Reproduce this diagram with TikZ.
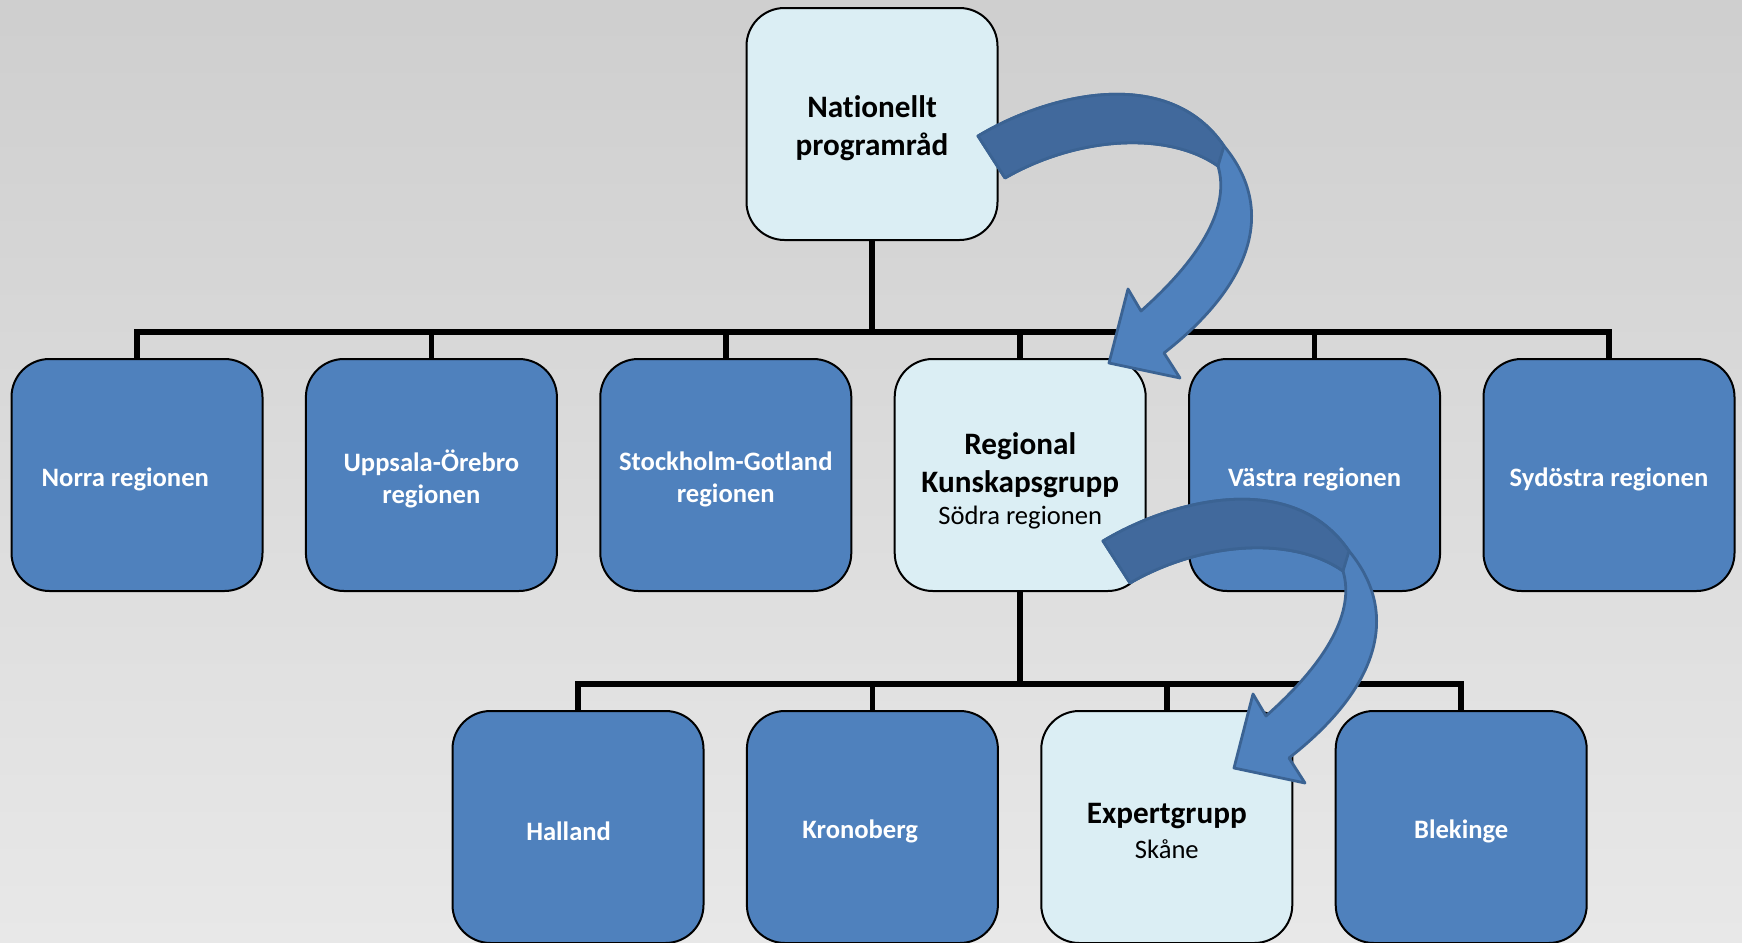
\documentclass[tikz,border=0pt]{standalone}
\usepackage{fontspec}
\setmainfont{Carlito}[Ligatures=NoCommon]
\usepackage{tikz}
\usetikzlibrary{positioning}
\definecolor{boxblue}{HTML}{4F81BD}
\definecolor{boxlight}{HTML}{DBEEF4}
\definecolor{arrowdark}{HTML}{41699C}
\definecolor{arrowline}{HTML}{3B6393}
\tikzset{
  box/.style={draw=black,line width=1pt,rounded corners=19pt,minimum width=125.5pt,minimum height=116pt,align=center,inner sep=2pt},
  region/.style={box,fill=boxblue,text=white,font=\fontsize{13.3}{16}\selectfont\bfseries,
    execute at begin node={\rule{0pt}{14pt}}},
  lead/.style={box,fill=boxlight,text=black,font=\fontsize{15.6}{18.9}\selectfont\bfseries},
  tree/.style={line width=2.8pt},
  bendarrow/.pic={
    % light band with head
    \draw[arrowline,line width=1.4pt,fill=boxblue,line join=round]
      (0,0) .. controls (70,-42) and (190,-72) .. (246,10)
      .. controls (300,75) and (272,150) .. (186,217)
      -- (202,242) -- (131,227) -- (150,153) -- (163,175)
      .. controls (225,120) and (252,70) .. (240,30)
      .. controls (190,-5) and (100,0) .. (27,42) -- cycle;
    % dark upper band
    \draw[arrowline,line width=1.4pt,fill=arrowdark,line join=round]
      (0,0) .. controls (70,-42) and (190,-72) .. (246,10)
      -- (240,30) .. controls (190,-5) and (100,0) .. (27,42) -- cycle;
  }
}
\newcommand{\lift}[1]{\rule{0pt}{#1}}
\newcommand{\sub}[2][-3pt]{\\[#1]{\fontsize{13.3}{16}\selectfont\mdseries #2}}
\begin{document}
\begin{tikzpicture}[x=0.5pt,y=-0.5pt,every node/.style={on grid,node distance=147.2pt}]
  \shade[top color=black!19,bottom color=black!9] (0,0) rectangle (1742,943);
  \useasboundingbox (0,0) rectangle (1742,943);

  \node[lead] (nat) at (872,124) {\lift{15pt}Nationellt\\programråd};

  \node[region] (norra) at (137,475) {Norra regionen\hspace*{11.7pt}};
  \node[region,right=of norra] (uppsala) {\lift{15pt}Uppsala-Örebro\\regionen};
  \node[region,right=of uppsala] (stockholm) {\lift{13.5pt}Stockholm-Gotland\\regionen};
  \node[lead,right=of stockholm] (sodra) {\lift{17pt}Regional\\Kunskapsgrupp\sub{Södra regionen}};
  \node[region,right=of sodra] (vastra) {Västra regionen};
  \node[region,right=of vastra] (sydostra) {Sydöstra regionen};

  \node[region] (halland) at (578,827) {Halland\hspace*{9.4pt}};
  \node[region,right=of halland] (kronoberg) {Kronoberg\hspace*{12.2pt}};
  \node[lead,right=of kronoberg] (skane) {\lift{14pt}Expertgrupp\sub[-1.5pt]{Skåne}};
  \node[region,right=of skane] (blekinge) {Blekinge};

  \draw[tree] (norra.north) -- ++(0,13pt) coordinate (bus1) -| (sydostra.north);
  \draw[tree] (nat.south) -- (nat.south |- bus1);
  \foreach \r in {uppsala,stockholm,sodra,vastra}
    \draw[tree] (\r.north) -- ++(0,13pt);

  \draw[tree] (halland.north) -- ++(0,13pt) coordinate (bus2) -| (blekinge.north);
  \draw[tree] (sodra.south) -- (sodra.south |- bus2);
  \foreach \r in {kronoberg,skane}
    \draw[tree] (\r.north) -- ++(0,13pt);

  \pic at (978,136) {bendarrow};
  \pic at (1103,541) {bendarrow};
\end{tikzpicture}
\end{document}
